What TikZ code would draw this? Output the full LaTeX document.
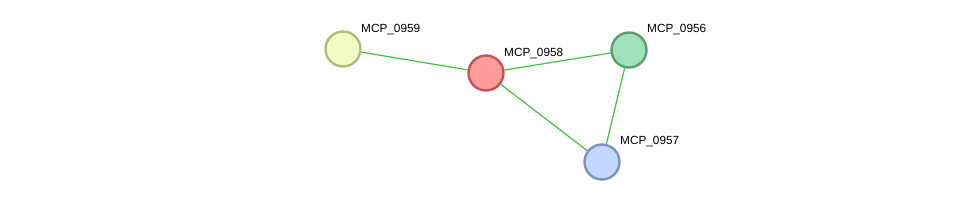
\documentclass[tikz,border=0pt]{standalone}
\usepackage{fontspec}
\setmainfont{Liberation Sans}
\definecolor{edgegreen}{HTML}{3CC43C}
\definecolor{fillA}{HTML}{F2FDC4}
\definecolor{lineA}{HTML}{B2BA7A}
\definecolor{fillB}{HTML}{FF9C9C}
\definecolor{lineB}{HTML}{C05454}
\definecolor{fillC}{HTML}{A2E2BA}
\definecolor{lineC}{HTML}{5C9E70}
\definecolor{fillD}{HTML}{C2D8FF}
\definecolor{lineD}{HTML}{7A92BC}
\tikzset{
  prot/.style={circle,draw,line width=2.4pt,minimum size=35pt,inner sep=0pt},
  lbl/.style={anchor=west,inner sep=0pt,font=\fontsize{11.8}{13}\selectfont}
}

\begin{document}
\begin{tikzpicture}[x=1pt,y=-1pt]
  \useasboundingbox (0,0) rectangle (976,207);
  \node[prot,fill=fillA,draw=lineA] (m59) at (343,49) {};
  \node[prot,fill=fillB,draw=lineB] (m58) at (486,73) {};
  \node[prot,fill=fillC,draw=lineC] (m56) at (629,50) {};
  \node[prot,fill=fillD,draw=lineD] (m57) at (602,162) {};
  \draw[edgegreen,line width=1.2pt] (m59) -- (m58);
  \draw[edgegreen,line width=1.2pt] (m58) -- (m56);
  \draw[edgegreen,line width=1.2pt] (m58) -- (m57);
  \draw[edgegreen,line width=1.2pt] (m56) -- (m57);
  \node[lbl] (t59) at (361,29.5) {MCP\_0959};
  \node[lbl] (t58) at (504,53.5) {MCP\_0958};
  \node[lbl] (t56) at (647,29.5) {MCP\_0956};
  \node[lbl] (t57) at (620,141.5) {MCP\_0957};
\end{tikzpicture}
\end{document}
